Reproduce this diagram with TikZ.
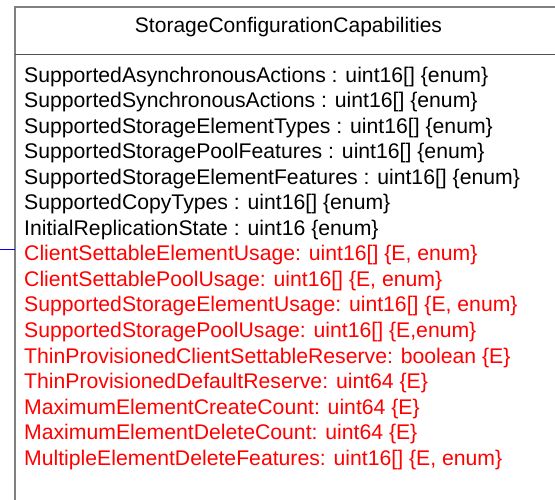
\documentclass[tikz,border=0pt]{standalone}
\usepackage{fontspec}
\setmainfont{Liberation Sans}
\usetikzlibrary{positioning}
\definecolor{umlgray}{RGB}{128,128,128}
\definecolor{umldark}{RGB}{80,80,80}
\tikzset{
  attr/.style={anchor=base west, inner sep=0pt, font=\fontsize{21.2}{25}\selectfont},
  newattr/.style={attr, text=red},
}

\begin{document}
\begin{tikzpicture}[x=1pt,y=1pt]
    \path[use as bounding box, clip] (0,0) rectangle (555,-500);
    \node (cls) [draw=umlgray, line width=2pt, outer sep=0pt, inner sep=0pt, minimum width=547pt, minimum height=530pt, anchor=north west] at (15,-7) {};
    \node (title) [anchor=base, inner sep=0pt, font=\fontsize{21}{25}\selectfont, at=(cls.north), yshift=-26pt] {StorageConfigurationCapabilities};
    \coordinate (sep) at (15,-54.5);
    \draw[umldark, line width=1.5pt] (sep) -- (sep -| cls.east);

    \node (a1) [attr, at=(cls.north west), xshift=9pt, yshift=-75.5pt] {SupportedAsynchronousActions : uint16[] \{enum\}};
    \node (a2) [below = 25.5pt, at=(a1.base west), attr] {SupportedSynchronousActions : uint16[] \{enum\}};
    \node (a3) [below = 25.5pt, at=(a2.base west), attr] {SupportedStorageElementTypes : uint16[] \{enum\}};
    \node (a4) [below = 25.5pt, at=(a3.base west), attr] {SupportedStoragePoolFeatures : uint16[] \{enum\}};
    \node (a5) [below = 25.5pt, at=(a4.base west), attr] {SupportedStorageElementFeatures : uint16[] \{enum\}};
    \node (a6) [below = 25.5pt, at=(a5.base west), attr] {SupportedCopyTypes : uint16[] \{enum\}};
    \node (a7) [below = 25.5pt, at=(a6.base west), attr] {InitialReplicationState : uint16 \{enum\}};
    \node (b1) [below = 25.5pt, at=(a7.base west), newattr] {ClientSettableElementUsage: uint16[] \{E, enum\}};
    \node (b2) [below = 25.5pt, at=(b1.base west), newattr] {ClientSettablePoolUsage: uint16[] \{E, enum\}};
    \node (b3) [below = 25.5pt, at=(b2.base west), newattr] {SupportedStorageElementUsage: uint16[] \{E, enum\}};
    \node (b4) [below = 25.5pt, at=(b3.base west), newattr] {SupportedStoragePoolUsage: uint16[] \{E,enum\}};
    \node (b5) [below = 25.5pt, at=(b4.base west), newattr] {ThinProvisionedClientSettableReserve: boolean \{E\}};
    \node (b6) [below = 25.5pt, at=(b5.base west), newattr] {ThinProvisionedDefaultReserve: uint64 \{E\}};
    \node (b7) [below = 25.5pt, at=(b6.base west), newattr] {MaximumElementCreateCount: uint64 \{E\}};
    \node (b8) [below = 25.5pt, at=(b7.base west), newattr] {MaximumElementDeleteCount: uint64 \{E\}};
    \node (b9) [below = 25.5pt, at=(b8.base west), newattr] {MultipleElementDeleteFeatures: uint16[] \{E, enum\}};

    % link coming in from the left
    \coordinate (ext) at (0,-249);
    \draw[blue, line width=0.8pt] (ext) -- (ext -| cls.west);
\end{tikzpicture}
\end{document}
